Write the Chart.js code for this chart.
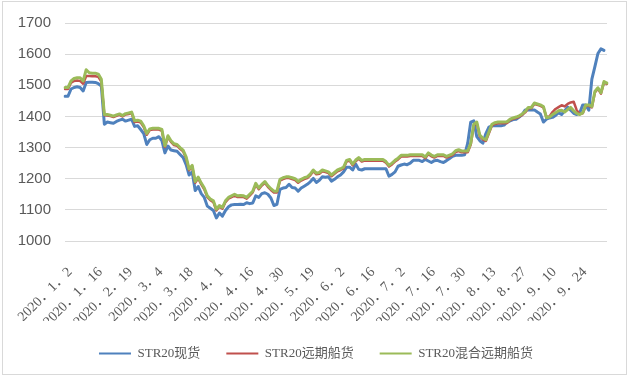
<!DOCTYPE html>
<html><head><meta charset="utf-8">
<script src="https://cdn.jsdelivr.net/npm/chart.js@4/dist/chart.umd.min.js"></script>
<style>
html,body{margin:0;padding:0;background:#fff;}
canvas{display:block}
</style></head><body>
<canvas id="c" width="628" height="376"></canvas>
<script>
// trading dates (category axis)
const categories = [
 "2020.1.2","2020.1.3","2020.1.6","2020.1.7","2020.1.8","2020.1.9","2020.1.10","2020.1.13","2020.1.14","2020.1.15","2020.1.16","2020.1.17","2020.1.20",
 "2020.2.10","2020.2.11","2020.2.12","2020.2.13","2020.2.14","2020.2.17","2020.2.18","2020.2.19","2020.2.20","2020.2.21","2020.2.24","2020.2.25","2020.2.26","2020.2.27","2020.2.28",
 "2020.3.2","2020.3.3","2020.3.4","2020.3.5","2020.3.6","2020.3.9","2020.3.10","2020.3.11","2020.3.12","2020.3.13","2020.3.16","2020.3.17","2020.3.18","2020.3.19","2020.3.20","2020.3.23","2020.3.24","2020.3.25","2020.3.26","2020.3.27","2020.3.30","2020.3.31",
 "2020.4.1","2020.4.2","2020.4.3","2020.4.7","2020.4.8","2020.4.9","2020.4.10","2020.4.13","2020.4.14","2020.4.15","2020.4.16","2020.4.17","2020.4.20","2020.4.21","2020.4.22","2020.4.23","2020.4.24","2020.4.27","2020.4.28","2020.4.29","2020.4.30",
 "2020.5.6","2020.5.7","2020.5.8","2020.5.11","2020.5.12","2020.5.13","2020.5.14","2020.5.15","2020.5.18","2020.5.19","2020.5.20","2020.5.21","2020.5.22","2020.5.25","2020.5.26","2020.5.27","2020.5.28","2020.5.29",
 "2020.6.1","2020.6.2","2020.6.3","2020.6.4","2020.6.5","2020.6.8","2020.6.9","2020.6.10","2020.6.11","2020.6.12","2020.6.15","2020.6.16","2020.6.17","2020.6.18","2020.6.19","2020.6.22","2020.6.23","2020.6.24","2020.6.29","2020.6.30",
 "2020.7.1","2020.7.2","2020.7.3","2020.7.6","2020.7.7","2020.7.8","2020.7.9","2020.7.10","2020.7.13","2020.7.14","2020.7.15","2020.7.16","2020.7.17","2020.7.20","2020.7.21","2020.7.22","2020.7.23","2020.7.24","2020.7.27","2020.7.28","2020.7.29","2020.7.30","2020.7.31",
 "2020.8.3","2020.8.4","2020.8.5","2020.8.6","2020.8.7","2020.8.10","2020.8.11","2020.8.12","2020.8.13","2020.8.14","2020.8.17","2020.8.18","2020.8.19","2020.8.20","2020.8.21","2020.8.24","2020.8.25","2020.8.26","2020.8.27","2020.8.28","2020.8.31",
 "2020.9.1","2020.9.2","2020.9.3","2020.9.4","2020.9.7","2020.9.8","2020.9.9","2020.9.10","2020.9.11","2020.9.14","2020.9.15","2020.9.16","2020.9.17","2020.9.18","2020.9.21","2020.9.22","2020.9.23","2020.9.24","2020.9.25","2020.9.28","2020.9.29","2020.9.30",
 "2020.10.9","2020.10.12","2020.10.13","2020.10.14","2020.10.15"
];

const seriesNames = ["STR20现货", "STR20远期船货", "STR20混合远期船货"];

const spot = [
 1465,1465,1488,1493,1495,1493,1482,1509,1510,1510,1509,1505,1498,
 1375,1382,1380,1378,1384,1388,1391,1385,1388,1391,1368,1370,1358,1345,1310,
 1325,1330,1330,1335,1322,1283,1305,1292,1290,1288,1278,1268,1245,1212,1222,1162,1175,1152,1140,1112,1105,1098,
 1074,1090,1080,1098,1110,1116,1117,1117,1118,1117,1123,1120,1122,1145,1140,1152,1155,1150,1138,1114,1118,
 1166,1170,1172,1182,1172,1170,1160,1170,1176,1182,1190,1201,1188,1195,1206,1205,1206,1192,
 1198,1206,1212,1222,1237,1237,1228,1247,1230,1228,1232,1232,1232,1232,1232,1232,1232,1232,1208,1214,
 1222,1240,1244,1247,1245,1250,1259,1259,1259,1255,1262,1257,1252,1258,1259,1255,1252,1258,1265,1272,1275,1275,1275,
 1277,1314,1382,1386,1335,1322,1314,1345,1366,1370,1370,1370,1370,1372,1382,1386,1390,1391,1398,1406,
 1421,1421,1421,1421,1414,1408,1382,1391,1395,1397,1403,1412,1406,1418,1430,1420,1410,1406,1412,1437,1437,
 1420,1520,1560,1602,1617,1612
];

const forward = [
 1488,1488,1508,1514,1515,1514,1505,1530,1530,1529,1529,1527,1512,
 1404,1403,1401,1398,1402,1405,1400,1406,1408,1411,1382,1384,1380,1366,1341,
 1356,1358,1358,1358,1354,1302,1334,1318,1308,1306,1296,1288,1266,1227,1239,1187,1201,1182,1166,1141,1131,1125,
 1098,1110,1104,1125,1136,1141,1146,1141,1142,1141,1136,1146,1156,1181,1166,1178,1187,1174,1164,1156,1156,
 1194,1199,1202,1202,1199,1196,1187,1194,1199,1202,1211,1224,1214,1216,1224,1221,1218,1208,
 1216,1224,1228,1233,1255,1258,1243,1256,1264,1255,1258,1258,1258,1258,1258,1258,1258,1251,1239,1246,
 1255,1262,1271,1271,1271,1273,1273,1273,1273,1273,1266,1279,1272,1268,1273,1273,1273,1268,1272,1276,1286,1289,1285,
 1285,1285,1310,1371,1378,1336,1326,1321,1346,1371,1376,1378,1378,1378,1379,1388,1392,1395,1399,1405,
 1413,1426,1426,1440,1437,1434,1429,1398,1400,1414,1424,1430,1436,1432,1440,1445,1447,1420,1408,1410,1434,
 1434,1429,1477,1489,1473,1509,1504
];

const blended = [
 1493,1493,1514,1522,1524,1524,1514,1550,1540,1539,1539,1536,1519,
 1406,1406,1404,1401,1405,1408,1403,1409,1411,1414,1386,1388,1385,1370,1345,
 1360,1362,1362,1362,1358,1306,1338,1322,1312,1310,1300,1292,1270,1231,1243,1191,1205,1186,1170,1145,1135,1129,
 1102,1114,1108,1129,1140,1145,1150,1145,1146,1145,1140,1150,1160,1185,1170,1182,1191,1178,1168,1160,1160,
 1198,1203,1206,1206,1203,1200,1191,1198,1203,1206,1215,1228,1218,1220,1228,1225,1222,1212,
 1220,1228,1232,1237,1259,1262,1247,1260,1268,1259,1262,1262,1262,1262,1262,1262,1262,1255,1243,1250,
 1259,1266,1275,1275,1275,1277,1277,1277,1277,1277,1270,1283,1276,1272,1277,1277,1277,1272,1276,1280,1290,1293,1289,
 1289,1289,1314,1375,1382,1340,1330,1325,1350,1375,1380,1382,1382,1382,1383,1391,1395,1398,1402,1408,
 1416,1429,1429,1443,1440,1437,1432,1396,1398,1406,1412,1418,1420,1414,1422,1429,1418,1410,1406,1412,1437,
 1437,1432,1480,1492,1476,1512,1507
];

const yTicks = [1000, 1100, 1200, 1300, 1400, 1500, 1600, 1700];

const FONT_SERIF = '"Liberation Serif", "Noto Sans CJK SC", serif';

const borderPlugin = {
  id: 'frame',
  afterDraw(chart) {
    const ctx = chart.ctx;
    ctx.save();
    ctx.strokeStyle = '#d9d9d9';
    ctx.lineWidth = 1;
    ctx.strokeRect(2.5, 1.5, 624, 373);
    ctx.restore();
  }
};

new Chart(document.getElementById('c'), {
  type: 'line',
  data: {
    labels: categories,
    datasets: [
      { label: seriesNames[0], data: spot, borderColor: '#4F81BD', backgroundColor: '#4F81BD', borderWidth: 3, order: 3 },
      { label: seriesNames[1], data: forward, borderColor: '#C0504D', backgroundColor: '#C0504D', borderWidth: 2.5, order: 2 },
      { label: seriesNames[2], data: blended, borderColor: '#9BBB59', backgroundColor: '#9BBB59', borderWidth: 3, order: 1 }
    ]
  },
  options: {
    responsive: false,
    animation: false,
    devicePixelRatio: 1,
    elements: {
      point: { radius: 0, hoverRadius: 0 },
      line: { tension: 0, borderJoinStyle: 'round', borderCapStyle: 'round' }
    },
    layout: { padding: { top: 19, right: 0, left: 4, bottom: 6 } },
    plugins: {
      tooltip: { enabled: false },
      legend: {
        position: 'bottom',
        labels: {
          boxWidth: 32,
          boxHeight: 2,
          padding: 26,
          color: '#595959',
          font: { family: FONT_SERIF, size: 13 },
          sort: (a, b) => a.datasetIndex - b.datasetIndex,
          generateLabels(chart) {
            const items = Chart.defaults.plugins.legend.labels.generateLabels(chart);
            items.forEach(it => { it.lineWidth = 0; it.fillStyle = it.strokeStyle; });
            return items;
          }
        }
      }
    },
    scales: {
      x: {
        type: 'category',
        offset: false,
        grid: { display: false, drawTicks: false },
        border: { display: false },
        afterFit(scale) { scale.height = 80; scale.paddingLeft = 0; scale.paddingRight = 0; },
        ticks: {
          autoSkip: false,
          maxRotation: 45,
          minRotation: 45,
          padding: 23,
          labelOffset: 5,
          color: '#595959',
          font: { family: FONT_SERIF, size: 14 },
          callback(value, index) {
            if (index % 10 !== 0) return null;
            return categories[index].split('.').join('．');
          }
        }
      },
      y: {
        min: 1000,
        max: 1700,
        afterFit(scale) { scale.width = 61; },
        afterBuildTicks(scale) { scale.ticks = yTicks.map(v => ({ value: v })); },
        grid: { color: '#d9d9d9', lineWidth: 1, drawTicks: false },
        border: { display: false },
        ticks: {
          padding: 14,
          color: '#595959',
          font: { family: '"Liberation Sans", sans-serif', size: 15 },
          callback: (v) => String(v)
        }
      },
      yRight: {
        position: 'right',
        display: true,
        grid: { display: false, drawTicks: false },
        border: { display: false },
        ticks: { display: false },
        afterFit(scale) { scale.width = 21; }
      }
    }
  },
  plugins: [borderPlugin]
});
</script>
</body></html>
